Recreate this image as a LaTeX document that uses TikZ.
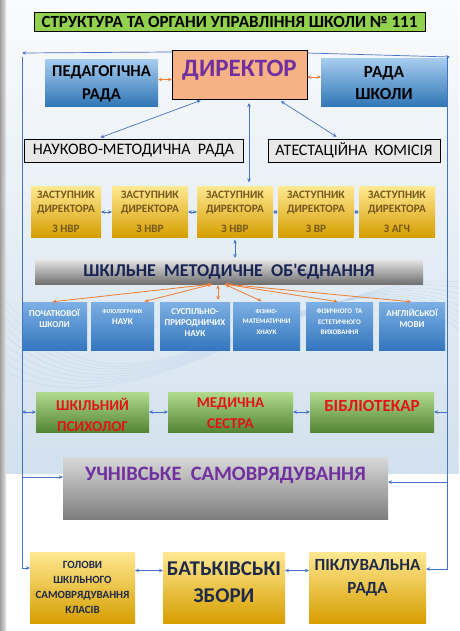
\documentclass[tikz,border=0pt]{standalone}
\usepackage{fontspec}
\setmainfont{Carlito}
\usepackage{tikz}
\usetikzlibrary{positioning, arrows.meta}

\definecolor{titlegreen}{RGB}{146,208,80}
\definecolor{dirfill}{RGB}{246,178,132}
\definecolor{dirtext}{RGB}{112,48,160}
\definecolor{bluetop}{RGB}{165,203,238}
\definecolor{bluebot}{RGB}{46,117,182}
\definecolor{subtop}{RGB}{125,176,228}
\definecolor{subbot}{RGB}{52,118,190}
\definecolor{goldtop}{RGB}{255,232,145}
\definecolor{goldbot}{RGB}{214,158,0}
\definecolor{goldtext}{RGB}{118,88,28}
\definecolor{greentop}{RGB}{178,218,142}
\definecolor{greenbot}{RGB}{84,134,52}
\definecolor{redtext}{RGB}{226,20,20}
\definecolor{greytop}{RGB}{232,232,232}
\definecolor{greybot}{RGB}{112,112,112}
\definecolor{navytext}{RGB}{24,36,84}
\definecolor{darktext}{RGB}{30,42,72}
\definecolor{linkblue}{RGB}{68,114,196}
\definecolor{linkorange}{RGB}{237,125,49}
\definecolor{bgtop}{RGB}{250,251,253}
\definecolor{bgbot}{RGB}{210,225,238}
\definecolor{bgline}{RGB}{180,208,234}

\newcommand{\toptxt}[3]{\parbox[c][#1][t]{#2}{\centering #3}}

\begin{document}
\begin{tikzpicture}[x=1pt, y=1pt,
    box/.style={inner sep=0pt, outer sep=0pt, align=center},
    framed/.style={box, draw=black, line width=0.8pt},
    bluebox/.style={box, top color=bluetop, bottom color=bluebot},
    subj/.style={box, top color=subtop, bottom color=subbot, text=white, minimum height=48pt, font=\fontsize{9}{11}\selectfont\bfseries},
    zast/.style={box, top color=goldtop, bottom color=goldbot, text=goldtext, minimum width=76pt, minimum height=51pt, font=\fontsize{11.3}{14}\selectfont\bfseries},
    gold/.style={box, top color=goldtop, bottom color=goldbot, text=darktext, minimum height=71pt},
    grn/.style={box, top color=greentop, bottom color=greenbot, text=redtext, minimum height=40pt, font=\fontsize{15}{21}\selectfont\bfseries},
    link/.style={draw=linkblue, line width=0.7pt, >={Stealth[length=4pt,width=3.5pt]}},
    olink/.style={draw=linkorange, line width=0.8pt, >={Stealth[length=4pt,width=3.5pt]}}]

    \useasboundingbox (0,0) rectangle (459,-631);

    %fond
    \fill[white] (0,0) rectangle (459,-631);
    \fill[top color=bgtop, bottom color=bgbot] (0,0) rectangle (459,-473);
    \foreach \k in {0,...,8}
        \draw[bgline, opacity=0.6] (6,-300-9*\k) .. controls (140,-480+5*\k) and (320,-210-7*\k) .. (459,-330+6*\k);
    \fill[left color=gray!75, right color=gray!20] (0,0) rectangle (6,-631);

    %titre
    \node[framed, fill=titlegreen, minimum width=391pt, minimum height=19pt, font=\fontsize{17}{18}\selectfont\bfseries] (title) at (229.5,-21.5) {СТРУКТУРА ТА ОРГАНИ УПРАВЛІННЯ ШКОЛИ № 111};

    %direction
    \node[framed, fill=dirfill, text=dirtext, minimum width=135pt, minimum height=49pt, font=\fontsize{25}{28}\selectfont\bfseries] (dir) at (239.5,-74.5) {\toptxt{29pt}{130pt}{ДИРЕКТОР}};
    \node[bluebox, minimum width=113pt, minimum height=47pt, font=\fontsize{16.5}{23}\selectfont\bfseries, left=14pt of dir, yshift=-9pt] (ped) {ПЕДАГОГІЧНА\\РАДА};
    \node[bluebox, minimum width=126pt, minimum height=48pt, font=\fontsize{17}{22}\selectfont\bfseries, right=14pt of dir, yshift=-8.5pt] (rada) {РАДА\\ШКОЛИ};

    %rades
    \node[framed, fill=greytop, minimum width=219pt, minimum height=23pt, font=\fontsize{16}{18}\selectfont] (nmr) at (133.5,-150.5) {НАУКОВО-МЕТОДИЧНА~ РАДА};
    \node[framed, fill=greytop, minimum width=172pt, minimum height=23pt, font=\fontsize{16}{18}\selectfont, right=25pt of nmr] (atk) {АТЕСТАЦІЙНА~ КОМІСІЯ};

    %заступники
    \node[zast, minimum width=70pt] (z1) at (66,-212) {ЗАСТУПНИК\\ДИРЕКТОРА\\[6pt]З НВР};
    \node[zast, right=11pt of z1] (z2) {ЗАСТУПНИК\\ДИРЕКТОРА\\[6pt]З НВР};
    \node[zast, right=9pt of z2] (z3) {ЗАСТУПНИК\\ДИРЕКТОРА\\[6pt]З НВР};
    \node[zast, right=5pt of z3] (z4) {ЗАСТУПНИК\\ДИРЕКТОРА\\[6pt]З ВР};
    \node[zast, right=5pt of z4] (z5) {ЗАСТУПНИК\\ДИРЕКТОРА\\[6pt]З АГЧ};

    %ШМО
    \node[box, top color=greytop, bottom color=greybot, text=navytext, minimum width=388pt, minimum height=25pt, font=\fontsize{18}{20}\selectfont\bfseries] (shmo) at (229,-271.5) {ШКІЛЬНЕ~ МЕТОДИЧНЕ~ ОБ\textquotesingle ЄДНАННЯ};

    \node[subj, minimum width=65pt] (s1) at (54.5,-326) {\toptxt{34pt}{62pt}{ПОЧАТКОВОЇ\\ШКОЛИ}};
    \node[subj, minimum width=63pt, right=4pt of s1] (s2) {\toptxt{34pt}{60pt}{{\fontsize{6}{9}\selectfont ФІЛОЛОГІЧНИХ}\\НАУК}};
    \node[subj, minimum width=70pt, right=6pt of s2] (s3) {\toptxt{34pt}{67pt}{СУСПІЛЬНО-\\ПРИРОДНИЧИХ\\НАУК}};
    \node[subj, minimum width=67pt, right=3pt of s3, font=\fontsize{7}{10.5}\selectfont\bfseries] (s4) {\toptxt{34pt}{64pt}{{\fontsize{6}{9}\selectfont ФІЗИКО-}\\МАТЕМАТИЧНИ\\ХНАУК}};
    \node[subj, minimum width=67pt, right=6pt of s4, font=\fontsize{7}{10.5}\selectfont\bfseries] (s5) {\toptxt{34pt}{64pt}{ФІЗИЧНОГО~ ТА\\ЕСТЕТИЧНОГО\\ВИХОВАННЯ}};
    \node[subj, minimum width=66pt, right=6pt of s5] (s6) {\toptxt{34pt}{63pt}{АНГЛІЙСЬКОЇ\\МОВИ}};

    %служби
    \node[grn, minimum width=113pt] (g1) at (92.5,-412) {\toptxt{28.5pt}{110pt}{ШКІЛЬНИЙ\\ПСИХОЛОГ}};
    \node[grn, minimum width=125pt, right=19pt of g1] (g2) {\toptxt{28.5pt}{120pt}{МЕДИЧНА\\СЕСТРА}};
    \node[grn, minimum width=124pt, right=17pt of g2, font=\fontsize{17}{20}\selectfont\bfseries] (g3) {\toptxt{23pt}{120pt}{БІБЛІОТЕКАР}};

    %самоврядування
    \node[box, top color=greytop!85!gray, bottom color=greybot!90!white, text=dirtext, minimum width=325pt, minimum height=62pt, font=\fontsize{20.5}{24}\selectfont\bfseries] (uch) at (225.5,-488) {\toptxt{42pt}{320pt}{УЧНІВСЬКЕ~ САМОВРЯДУВАННЯ}};

    %батьки
    \node[gold, minimum width=105pt, font=\fontsize{11}{15}\selectfont\bfseries] (h1) at (82.5,-587.5) {ГОЛОВИ\\ШКІЛЬНОГО\\САМОВРЯДУВАННЯ\\КЛАСІВ};
    \node[gold, minimum width=122pt, right=28pt of h1, font=\fontsize{21}{27}\selectfont\bfseries] (h2) {\toptxt{52.5pt}{118pt}{БАТЬКІВСЬКІ\\ЗБОРИ}};
    \node[gold, minimum width=117pt, right=24pt of h2, font=\fontsize{17}{23}\selectfont\bfseries] (h3) {\toptxt{56pt}{114pt}{ПІКЛУВАЛЬНА\\РАДА}};

    %зв'язки
    \coordinate (lc) at (22,-53);
    \coordinate (rc) at (450,-57);
    \coordinate (lt) at (22,-57);
    \coordinate (lb) at (22,-568);
    \coordinate (rt) at (447,-58);
    \coordinate (rb) at (447,-569);

    \draw[link,->] ([yshift=-2pt]dir.north west) -- (lc);
    \draw[link,->] ([yshift=-3pt]dir.north east) -- (rc);
    \draw[link,->] (lt) -- (lb) -- (lb -| h1.west);
    \draw[link,->] (rt) -- (rb) -- (rb -| h3.east);

    \draw[olink,<->,transform canvas={yshift=4pt}] (ped.east) -- (ped.east -| dir.west);
    \draw[olink,<->,transform canvas={yshift=6pt}] (rada.west) -- (rada.west -| dir.east);

    \draw[link,<->,shorten <=4pt,shorten >=4pt] ([xshift=-35pt]dir.south) -- ([xshift=-37pt]nmr.north);
    \draw[link,<->,shorten <=4pt,shorten >=4pt] ([xshift=38pt]dir.south) -- ([xshift=-14pt]atk.north);
    \draw[link,<->,shorten <=4pt,shorten >=4pt,transform canvas={xshift=9.5pt}] (dir.south) -- (dir.south |- z3.north);

    \draw[link,<->] (z1) -- (z2);
    \draw[link,<->] (z2) -- (z3);
    \draw[link,<->] (z3) -- (z4);
    \draw[link,<->] (z4) -- (z5);
    \draw[link,<->,shorten <=2pt,shorten >=1pt] (z3.south) -- (z3.south |- shmo.north);

    \foreach \s/\a/\b in {s1/-16/-4, s2/-16/20, s3/-11/23, s4/-5/-3, s5/-5/0, s6/-5/1}
        \draw[olink,<->,shorten <=1pt,shorten >=2pt] ([xshift=\a pt]shmo.south) -- ([xshift=\b pt]\s.north);

    \draw[link,<->] (lt |- g1.west) -- (g1.west);
    \draw[link,<->] (g1) -- (g2);
    \draw[link,<->] (g2) -- (g3);
    \draw[link,->] (rt |- g3.east) -- (g3.east);

    \draw[link,->,transform canvas={yshift=11pt}] (lt |- uch.west) -- (uch.west);
    \draw[link,->,transform canvas={yshift=6pt}] (rt |- uch.east) -- (uch.east);

    \draw[link,<->,transform canvas={yshift=17pt}] (h1) -- (h2);
    \draw[link,<->,transform canvas={yshift=17pt}] (h2) -- (h3);

\end{tikzpicture}
\end{document}
